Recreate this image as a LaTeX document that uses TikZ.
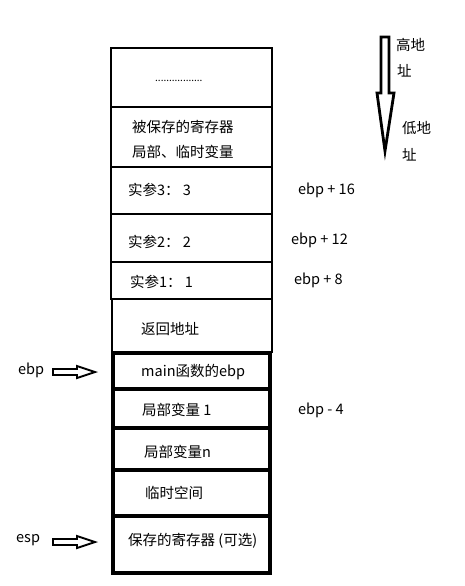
\documentclass[tikz,border=0pt]{standalone}
\usepackage{fontspec}
\setmainfont{Noto Sans CJK SC}
\begin{document}
\begin{tikzpicture}[x=1pt,y=-1pt,
  thin box/.style={draw=black,line width=2.1pt},
  thick box/.style={draw=black,line width=3.1pt},
  lbl/.style={anchor=west,inner sep=0pt,font=\fontsize{14.5}{17}\selectfont},
  hollow/.style={draw=black,line width=1.9pt,line join=miter,fill=white}]
\useasboundingbox (0,0) rectangle (465,586);
% upper stack
\draw[thin box] (111,48) rectangle (272,107);
\draw[thin box] (111,107) rectangle (272,167);
\draw[thin box] (111,167) rectangle (272,214);
\draw[thin box] (111,214) rectangle (272,262);
\draw[thin box] (111,262) rectangle (272,299);
\draw[thin box] (112,299) rectangle (272,352);
% lower stack
\draw[thick box] (113,353) rectangle (270,389);
\draw[thick box] (113,389) rectangle (270,428);
\draw[thick box] (113,428) rectangle (270,470);
\draw[thick box] (113,470) rectangle (270,516);
\draw[thick box] (113,516) rectangle (270,573);
% cell texts
\node[anchor=west,inner sep=0pt,font=\fontsize{10}{12}\selectfont] (dots) at (155,81) {.................};
\node[lbl] (t1a) at (132,127) {被保存的寄存器};
\node[lbl] (t1b) at (132,152) {局部、临时变量};
\node[lbl] (t2) at (128,190) {实参3： 3};
\node[lbl] (t3) at (128,242) {实参2：  2};
\node[lbl] (t4) at (130,282) {实参1： 1};
\node[lbl] (t5) at (141,329) {返回地址};
\node[lbl] (t6) at (141,372) {main函数的ebp};
\node[lbl] (t7) at (142,410) {局部变量 1};
\node[lbl] (t8) at (144,452) {局部变量n};
\node[lbl] (t9) at (145,493) {临时空间};
\node[lbl] (t10) at (128,541) {保存的寄存器 (可选)};
% right offsets
\node[lbl] (o16) at (298,190) {ebp + 16};
\node[lbl] (o12) at (291,240) {ebp + 12};
\node[lbl] (o8) at (294,280) {ebp + 8};
\node[lbl] (om4) at (298,410) {ebp - 4};
% left pointers
\node[lbl] (ebp) at (18,370) {ebp};
\node[lbl] (esp) at (16,540) {esp};
\draw[hollow] (53,369) -- (77,369) -- (77,366) -- (95,372) -- (77,378) -- (77,375) -- (53,375) -- cycle;
\draw[hollow] (53,539) -- (77,539) -- (77,536) -- (95,542) -- (77,548) -- (77,545) -- (53,545) -- cycle;
% direction arrow
\draw[hollow,line width=2.8pt] (381,37) -- (389,37) -- (389,93) -- (394,93) -- (385,151) -- (377,93) -- (381,93) -- cycle;
\node[lbl] (hi1) at (396,45) {高地};
\node[lbl] (hi2) at (397,71) {址};
\node[lbl] (lo1) at (402,128) {低地};
\node[lbl] (lo2) at (402,155) {址};
\end{tikzpicture}
\end{document}
